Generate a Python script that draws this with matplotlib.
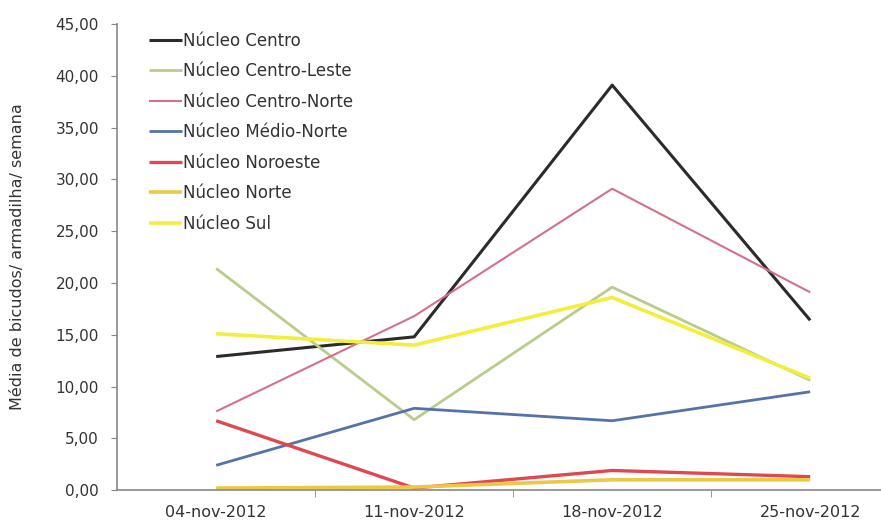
import matplotlib.pyplot as plt
from matplotlib.ticker import FuncFormatter

plt.rcParams['font.family'] = ['DejaVu Sans']

# weekly trap averages per regional nucleus
semanas = ['04-nov-2012', '11-nov-2012', '18-nov-2012', '25-nov-2012']
nucleos = ['Núcleo Centro', 'Núcleo Centro-Leste', 'Núcleo Centro-Norte',
           'Núcleo Médio-Norte', 'Núcleo Noroeste', 'Núcleo Norte', 'Núcleo Sul']
centro = [12.9, 14.8, 39.1, 16.4]
centro_leste = [21.4, 6.8, 19.6, 10.6]
centro_norte = [7.6, 16.8, 29.1, 19.1]
medio_norte = [2.4, 7.9, 6.7, 9.5]
noroeste = [6.7, 0.2, 1.9, 1.3]
norte = [0.2, 0.3, 1.0, 1.0]
sul = [15.1, 14.0, 18.6, 10.8]

series = [centro, centro_leste, centro_norte, medio_norte, noroeste, norte, sul]
cores = ['#2b2b2b', '#b9cc8c', '#d4708a', '#5573a8', '#e04850', '#ecc845', '#f2ef3c']
larguras = [2.2, 2.0, 1.5, 2.0, 2.4, 2.6, 2.6]

fig = plt.figure(figsize=(8.81, 5.22), dpi=100)
ax = fig.add_axes([0.133, 0.061, 0.899, 0.893])

x = range(len(semanas))
for nome, vals, c, lw in zip(nucleos, series, cores, larguras):
    ax.plot(x, vals, color=c, lw=lw, label=nome, solid_capstyle='butt')

ax.set_xlim(-0.5, 3.5)
ax.set_ylim(0, 45)
ax.set_yticks(range(0, 46, 5))
ax.yaxis.set_major_formatter(FuncFormatter(lambda v, p: '{:.2f}'.format(v).replace('.', ',')))
ax.set_xticks(list(x))
ax.set_xticklabels(semanas)
ax.set_xticks([0.5, 1.5, 2.5], minor=True)
ax.tick_params(axis='x', which='major', length=0, pad=11, labelsize=11.5, colors='#333333')
ax.tick_params(axis='x', which='minor', length=5, direction='out', color='#888888')
ax.tick_params(axis='y', length=4, direction='out', color='#888888', labelsize=11,
               labelcolor='#333333', pad=9)

for s in ['top', 'right']:
    ax.spines[s].set_visible(False)
for s in ['left', 'bottom']:
    ax.spines[s].set_color('#888888')
    ax.spines[s].set_linewidth(1.2)

ax.set_ylabel('Média de bicudos/ armadilha/ semana', fontsize=11.5, color='#333333', labelpad=22)

leg = ax.legend(loc='upper left', bbox_to_anchor=(0.027, 1.005), frameon=False,
                fontsize=12, handlelength=2.0, handletextpad=0.05,
                labelspacing=0.75, borderaxespad=0.2)
for t in leg.get_texts():
    t.set_color('#333333')

fig.savefig('out.png', dpi=100)
